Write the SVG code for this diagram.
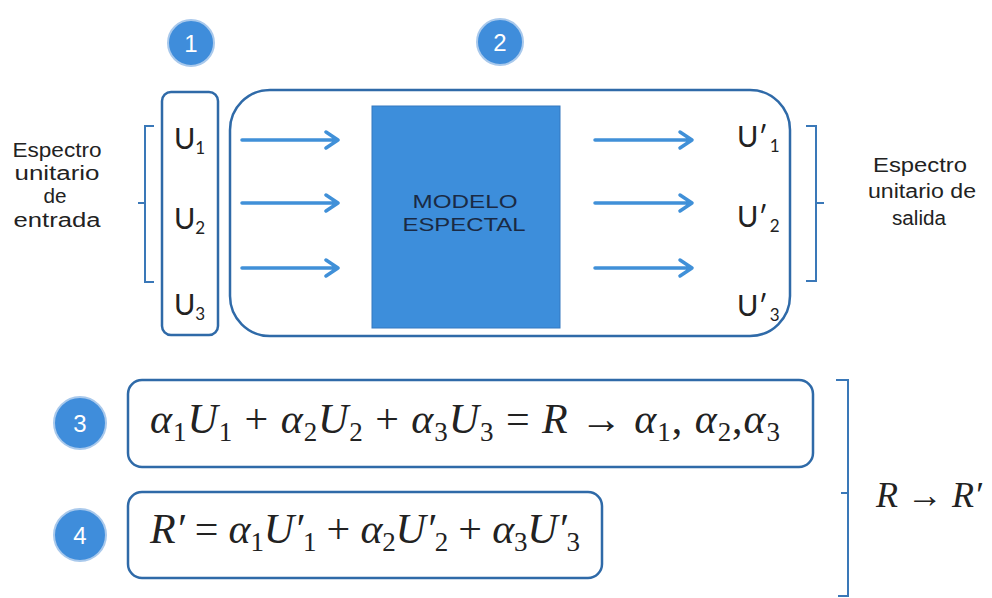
<svg xmlns="http://www.w3.org/2000/svg" width="992" height="598" viewBox="0 0 992 598">
<style>
.circ{fill:#3f8ddb;stroke:#a9c9ec;stroke-width:2}
.num{font-family:"Liberation Sans",Arial,sans-serif;font-size:24px;fill:#fff;text-anchor:middle}
.box{fill:#fff;stroke:#2f6aa8;stroke-width:2.5}
.lbl{font-family:Lato,"Open Sans",sans-serif;font-size:29px;fill:#222}
.sub{font-size:17px}
.side{font-family:"Liberation Sans",Arial,sans-serif;font-size:20px;fill:#222;text-anchor:middle}
.mod{font-family:"Liberation Sans",Arial,sans-serif;font-size:18px;fill:#1a2a44;text-anchor:middle}
.brk{fill:none;stroke:#3a78b8;stroke-width:2}
.arr{fill:none;stroke:#4090d8;stroke-width:3.5;stroke-linecap:round;stroke-linejoin:round}
.eq{font-family:"Liberation Serif","Times New Roman",serif;font-style:italic;font-size:42px;fill:#222}
.up{font-style:normal}
.es{font-size:27px;font-style:normal}
</style>
<rect width="992" height="598" fill="#fff"/>

<g id="n1">
<circle class="circ" cx="191" cy="43" r="23"/>
<text class="num" x="191" y="52">1</text>
</g>
<g id="n2">
<circle class="circ" cx="500" cy="42" r="23"/>
<text class="num" x="500" y="51">2</text>
</g>

<g id="input-col">
<rect class="box" x="162" y="92" width="56" height="243" rx="9"/>
<text class="lbl" x="174" y="149">U<tspan class="sub" dy="5">1</tspan></text>
<text class="lbl" x="174" y="229">U<tspan class="sub" dy="5">2</tspan></text>
<text class="lbl" x="174" y="315">U<tspan class="sub" dy="5">3</tspan></text>
</g>

<g id="system">
<rect class="box" x="230" y="90" width="560" height="246" rx="40"/>
<rect x="372" y="106" width="188" height="222" fill="#3d8edb" stroke="#3478c0" stroke-width="1"/>
<text class="mod" x="465" y="208" textLength="105" lengthAdjust="spacingAndGlyphs">MODELO</text>
<text class="mod" x="464" y="231" textLength="123" lengthAdjust="spacingAndGlyphs">ESPECTAL</text>
<text class="lbl" x="737" y="147">U′<tspan class="sub" dx="2" dy="5">1</tspan></text>
<text class="lbl" x="737" y="227">U′<tspan class="sub" dx="2" dy="5">2</tspan></text>
<text class="lbl" x="737" y="316">U′<tspan class="sub" dx="2" dy="5">3</tspan></text>
</g>

<g id="connectors">
<path class="arr" d="M242 140H338M326 132L338 140L326 148"/>
<path class="arr" d="M242 203H338M326 195L338 203L326 211"/>
<path class="arr" d="M242 268H338M326 260L338 268L326 276"/>
<path class="arr" d="M595 140H692M680 132L692 140L680 148"/>
<path class="arr" d="M595 203H692M680 195L692 203L680 211"/>
<path class="arr" d="M595 268H692M680 260L692 268L680 276"/>
</g>

<g id="in-label">
<path class="brk" d="M154 126H145V282H154M145 203H138"/>
<text class="side" x="57" y="157" textLength="89" lengthAdjust="spacingAndGlyphs">Espectro</text>
<text class="side" x="57" y="180" textLength="85" lengthAdjust="spacingAndGlyphs">unitario</text>
<text class="side" x="55" y="203" textLength="23" lengthAdjust="spacingAndGlyphs">de</text>
<text class="side" x="57" y="227" textLength="87" lengthAdjust="spacingAndGlyphs">entrada</text>
</g>

<g id="out-label">
<path class="brk" d="M806 126H816V281H806M816 203H824"/>
<text class="side" x="920" y="172" textLength="94" lengthAdjust="spacingAndGlyphs">Espectro</text>
<text class="side" x="922" y="198" textLength="108" lengthAdjust="spacingAndGlyphs">unitario de</text>
<text class="side" x="919" y="225" textLength="54" lengthAdjust="spacingAndGlyphs">salida</text>
</g>

<g id="n3">
<circle class="circ" cx="80" cy="423" r="26"/>
<text class="num" x="80" y="432">3</text>
<rect class="box" x="128" y="380" width="685" height="87" rx="14"/>
<text class="eq" x="150" y="433" textLength="630" lengthAdjust="spacing">α<tspan class="es" dy="8">1</tspan><tspan dy="-8">U</tspan><tspan class="es" dy="8">1</tspan><tspan class="up" dy="-8"> + </tspan>α<tspan class="es" dy="8">2</tspan><tspan dy="-8">U</tspan><tspan class="es" dy="8">2</tspan><tspan class="up" dy="-8"> + </tspan>α<tspan class="es" dy="8">3</tspan><tspan dy="-8">U</tspan><tspan class="es" dy="8">3</tspan><tspan class="up" dy="-8"> = </tspan>R<tspan class="up"> → </tspan>α<tspan class="es" dy="8">1</tspan><tspan class="up" dy="-8">, </tspan>α<tspan class="es" dy="8">2</tspan><tspan class="up" dy="-8">,</tspan>α<tspan class="es" dy="8">3</tspan></text>
</g>

<g id="n4">
<circle class="circ" cx="80" cy="535" r="26"/>
<text class="num" x="80" y="544">4</text>
<rect class="box" x="128" y="492" width="474" height="86" rx="14"/>
<text class="eq" x="150" y="543" textLength="430" lengthAdjust="spacing">R′<tspan class="up"> = </tspan>α<tspan class="es" dy="8">1</tspan><tspan dy="-8">U′</tspan><tspan class="es" dy="8">1</tspan><tspan class="up" dy="-8"> + </tspan>α<tspan class="es" dy="8">2</tspan><tspan dy="-8">U′</tspan><tspan class="es" dy="8">2</tspan><tspan class="up" dy="-8"> + </tspan>α<tspan class="es" dy="8">3</tspan><tspan dy="-8">U′</tspan><tspan class="es" dy="8">3</tspan></text>
</g>

<g id="result">
<path class="brk" d="M836 380H848V596H838M848 493H841"/>
<text class="eq" x="876" y="507" style="font-size:36px">R<tspan class="up"> → </tspan>R′</text>
</g>
</svg>
